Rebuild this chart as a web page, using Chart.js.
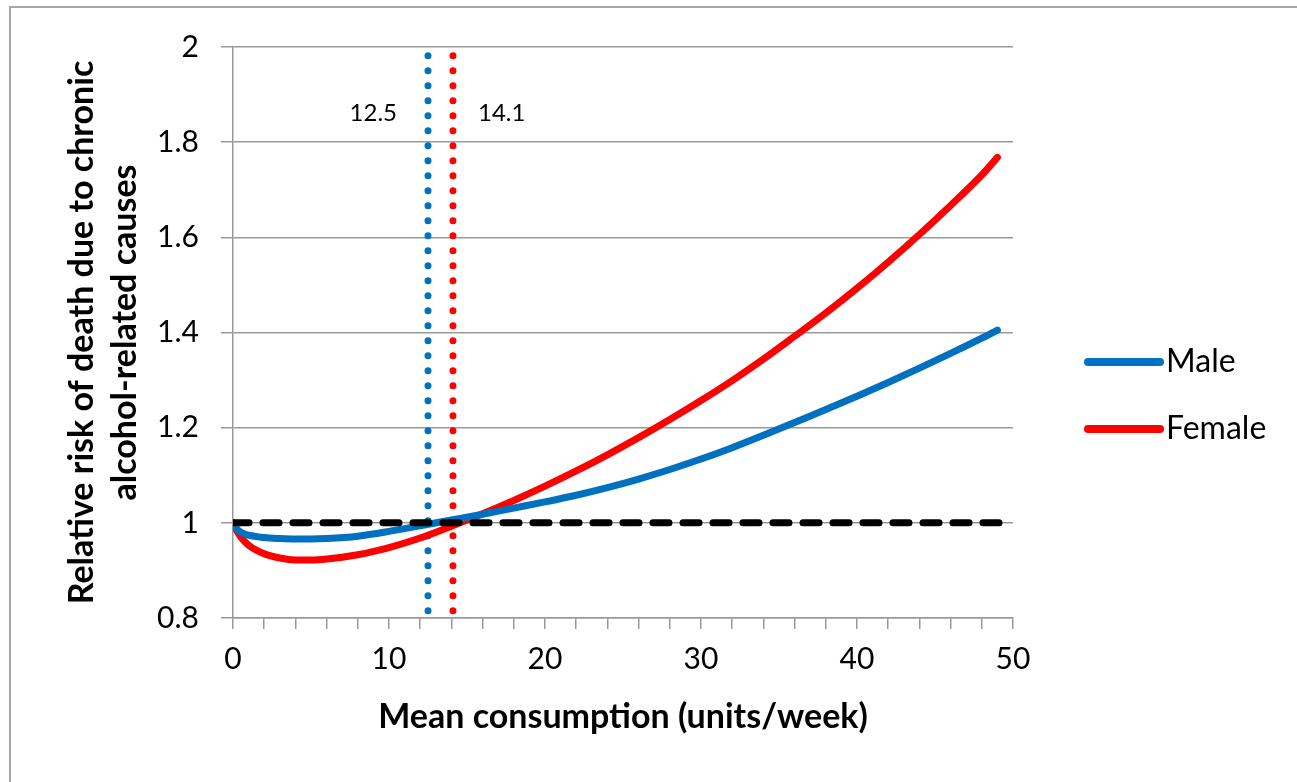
<!DOCTYPE html>
<html>
<head>
<meta charset="utf-8">
<script src="https://cdn.jsdelivr.net/npm/chart.js@4.4.1/dist/chart.umd.min.js"></script>
<style>
  html, body { margin: 0; padding: 0; background: #fff; }
  #wrap { width: 1297px; height: 782px; }
</style>
</head>
<body>
<div id="wrap"><canvas id="riskChart" width="1297" height="782"></canvas></div>
<script>
// units/week
const consumption = [0, 0.25, 0.5, 1, 2, 3, 4, 5, 6, 8, 10, 12, 14, 16, 18, 20, 22, 24, 26, 28, 30, 32, 34, 36, 38, 40, 42, 44, 46, 48, 49];
const maleRisk = [1.0, 0.987, 0.98, 0.974, 0.969, 0.967, 0.966, 0.966, 0.967, 0.972, 0.982, 0.994, 1.006, 1.018, 1.031, 1.044, 1.058, 1.074, 1.092, 1.112, 1.134, 1.158, 1.184, 1.211, 1.238, 1.266, 1.295, 1.325, 1.356, 1.388, 1.405];
const femaleRisk = [1.0, 0.983, 0.97, 0.953, 0.935, 0.926, 0.922, 0.922, 0.924, 0.933, 0.948, 0.968, 0.993, 1.019, 1.047, 1.077, 1.109, 1.143, 1.179, 1.217, 1.257, 1.299, 1.344, 1.392, 1.441, 1.493, 1.548, 1.606, 1.667, 1.731, 1.768];

const seriesNames = ['Male', 'Female'];
const seriesColors = ['#0070C0', '#FF0000'];

// thresholds where risk returns to 1
const crossPoints = [12.5, 14.1];
const baselineRisk = 1;

const xTicks = [0, 10, 20, 30, 40, 50];
const yTicks = [0.8, 1, 1.2, 1.4, 1.6, 1.8, 2];

const toPoints = (xs, ys) => xs.map((x, i) => ({ x: x, y: ys[i] }));

const FONT = 'Lato, "Open Sans", sans-serif';

const frame = {
    id: 'frame',
    beforeDraw(chart) {
        const ctx = chart.ctx;
        ctx.save();
        ctx.fillStyle = '#fff';
        ctx.fillRect(0, 0, chart.width, chart.height);
        ctx.strokeStyle = '#a6a6a6';
        ctx.lineWidth = 2;
        ctx.strokeRect(10, 7, chart.width + 20, chart.height + 20);
        ctx.restore();
    }
};

const extras = {
    id: 'extras',
    afterDraw(chart) {
        const ctx = chart.ctx;
        const xs = chart.scales.x;
        const ys = chart.scales.y;
        ctx.save();
        ctx.fillStyle = '#000';
        ctx.font = '24px ' + FONT;
        ctx.textBaseline = 'middle';
        const labelY = ys.getPixelForValue(1.86);
        ctx.textAlign = 'right';
        ctx.fillText(crossPoints[0].toFixed(1), xs.getPixelForValue(crossPoints[0]) - 31, labelY);
        ctx.textAlign = 'left';
        ctx.fillText(crossPoints[1].toFixed(1), xs.getPixelForValue(crossPoints[1]) + 25, labelY);

        // legend
        ctx.font = '32px ' + FONT;
        ctx.lineCap = 'round';
        ctx.lineWidth = 8;
        seriesNames.forEach((name, i) => {
            const y = 362 + i * 67;
            ctx.strokeStyle = seriesColors[i];
            ctx.beginPath();
            ctx.moveTo(1088, y);
            ctx.lineTo(1160, y);
            ctx.stroke();
            ctx.fillStyle = '#000';
            ctx.textAlign = 'left';
            ctx.fillText(name, 1166, y);
        });
        ctx.restore();
    }
};

const ctx = document.getElementById('riskChart').getContext('2d');
new Chart(ctx, {
    type: 'line',
    data: {
        datasets: [
            {
                label: 'baseline',
                data: [{ x: 0, y: baselineRisk }, { x: 50, y: baselineRisk }],
                borderColor: '#000',
                borderWidth: 7,
                borderDash: [16, 14],
                borderCapStyle: 'round',
                pointRadius: 0
            },
            {
                label: seriesNames[0],
                data: toPoints(consumption, maleRisk),
                borderColor: seriesColors[0],
                borderWidth: 7,
                borderCapStyle: 'round',
                cubicInterpolationMode: 'monotone',
                pointRadius: 0
            },
            {
                label: seriesNames[1],
                data: toPoints(consumption, femaleRisk),
                borderColor: seriesColors[1],
                borderWidth: 7,
                borderCapStyle: 'round',
                cubicInterpolationMode: 'monotone',
                pointRadius: 0
            },
            {
                label: 'male threshold',
                data: [{ x: crossPoints[0], y: 0.815 }, { x: crossPoints[0], y: 2 }],
                borderColor: seriesColors[0],
                borderWidth: 7,
                borderDash: [0, 15],
                borderCapStyle: 'round',
                pointRadius: 0
            },
            {
                label: 'female threshold',
                data: [{ x: crossPoints[1], y: 0.815 }, { x: crossPoints[1], y: 2 }],
                borderColor: seriesColors[1],
                borderWidth: 7,
                borderDash: [0, 15],
                borderCapStyle: 'round',
                pointRadius: 0
            }
        ]
    },
    options: {
        responsive: false,
        animation: false,
        layout: { padding: { left: 40, top: 47, right: 284, bottom: 20 } },
        plugins: {
            legend: { display: false },
            tooltip: { enabled: false }
        },
        scales: {
            x: {
                type: 'linear',
                min: 0,
                max: 50,
                afterFit: scale => { scale.height = 782 - 618 - 20; },
                ticks: {
                    stepSize: 2,
                    autoSkip: false,
                    maxRotation: 0,
                    padding: 12,
                    color: '#000',
                    font: { family: FONT, size: 30 },
                    callback: v => (xTicks.includes(v) ? String(v) : '')
                },
                grid: {
                    drawOnChartArea: false,
                    drawTicks: true,
                    tickLength: 11,
                    color: '#999',
                    lineWidth: 1.5
                },
                border: { color: '#999', width: 1.5 },
                title: {
                    display: true,
                    text: 'Mean consumption (units/week)',
                    color: '#000',
                    font: { family: FONT, size: 34, weight: 'bold' },
                    padding: { top: 0, bottom: 25 }
                }
            },
            y: {
                min: 0.8,
                max: 2,
                afterFit: scale => { scale.width = 233 - 40; },
                afterBuildTicks: scale => { scale.ticks = yTicks.map(v => ({ value: v })); },
                ticks: {
                    padding: 22,
                    color: '#000',
                    font: { family: FONT, size: 30 },
                    callback: v => String(Number(v.toFixed(1)))
                },
                grid: {
                    drawTicks: true,
                    tickLength: 12,
                    color: '#999',
                    lineWidth: 1.5
                },
                border: { color: '#999', width: 1.5 },
                title: {
                    display: true,
                    text: ['Relative risk of death due to chronic', 'alcohol-related causes'],
                    color: '#000',
                    font: { family: FONT, size: 34, weight: 'bold', lineHeight: 1.27 },
                    padding: { top: 20, bottom: 0 }
                }
            }
        }
    },
    plugins: [frame, extras]
});
</script>
</body>
</html>
